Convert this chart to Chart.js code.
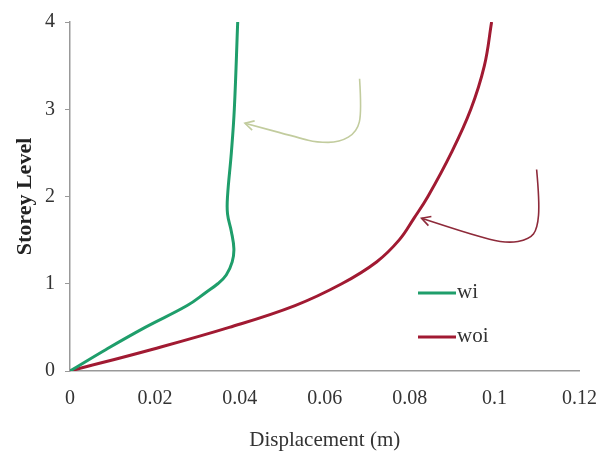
<!DOCTYPE html>
<html lang="en">
<head>
    <meta charset="UTF-8">
    <title>Storey Displacement</title>
    <style>
        body { margin: 0; padding: 0; background: white; }
        #wrap { width: 613px; height: 458px; }
    </style>
</head>
<body>
    <div id="wrap"><canvas id="storeyChart" width="613" height="458"></canvas></div>

    <script src="https://cdn.jsdelivr.net/npm/chart.js"></script>
    <script>
        // storey levels, with displacement (m) for each curve
        const wiLevels = [0, 0.25, 0.5, 0.75, 0.9, 1.0, 1.1, 1.25, 1.4, 1.6, 1.8, 2.0, 2.5, 3.0, 4.0];
        const wiDisp   = [0, 0.0086, 0.0177, 0.0276, 0.032, 0.0348, 0.0368, 0.0382, 0.0386, 0.038, 0.0371, 0.0371, 0.038, 0.0387, 0.0395];

        const woiLevels = [0, 0.25, 0.5, 0.75, 1.0, 1.25, 1.5, 1.75, 2.0, 2.5, 3.0, 3.5, 4.0];
        const woiDisp   = [0, 0.0195, 0.0375, 0.053, 0.064, 0.0722, 0.0775, 0.081, 0.0843, 0.0898, 0.0944, 0.0976, 0.0993];

        const xTicks = [0, 0.02, 0.04, 0.06, 0.08, 0.1, 0.12];
        const yTicks = [0, 1, 2, 3, 4];

        // hand-drawn arrows (data coords), last point is the arrow tip
        const wiArrowX = [0.0682, 0.0687, 0.0676, 0.0635, 0.0581, 0.0541, 0.0412];
        const wiArrowY = [3.35, 2.97, 2.74, 2.62, 2.62, 2.67, 2.84];
        const woiArrowX = [0.1099, 0.1106, 0.1101, 0.1082, 0.1028, 0.0948, 0.0828];
        const woiArrowY = [2.31, 1.94, 1.63, 1.51, 1.46, 1.56, 1.75];

        const toPoints = (xs, ys) => xs.map((x, i) => ({ x: x, y: ys[i] }));

        // draws the curved arrows and the legend inside the plot
        const extras = {
            id: 'extras',
            afterDatasetsDraw(chart) {
                const ctx = chart.ctx;
                const xs = chart.scales.x, ys = chart.scales.y;

                function arrow(ax, ay, color) {
                    const pts = ax.map((x, i) => [xs.getPixelForValue(x), ys.getPixelForValue(ay[i])]);
                    ctx.save();
                    ctx.strokeStyle = color;
                    ctx.lineWidth = 1.6;
                    ctx.beginPath();
                    ctx.moveTo(pts[0][0], pts[0][1]);
                    for (let i = 1; i < pts.length - 1; i++) {
                        const mx = (pts[i][0] + pts[i + 1][0]) / 2;
                        const my = (pts[i][1] + pts[i + 1][1]) / 2;
                        ctx.quadraticCurveTo(pts[i][0], pts[i][1], mx, my);
                    }
                    const tip = pts[pts.length - 1];
                    ctx.lineTo(tip[0], tip[1]);
                    ctx.stroke();
                    // arrow head
                    const prev = pts[pts.length - 2];
                    const ang = Math.atan2(tip[1] - prev[1], tip[0] - prev[0]);
                    ctx.beginPath();
                    ctx.moveTo(tip[0] - 10 * Math.cos(ang - 0.5), tip[1] - 10 * Math.sin(ang - 0.5));
                    ctx.lineTo(tip[0], tip[1]);
                    ctx.lineTo(tip[0] - 10 * Math.cos(ang + 0.5), tip[1] - 10 * Math.sin(ang + 0.5));
                    ctx.stroke();
                    ctx.restore();
                }
                arrow(wiArrowX, wiArrowY, '#c2cc9e');
                arrow(woiArrowX, woiArrowY, '#8e2a3a');

                // legend
                const area = chart.chartArea;
                const lx = area.left + 348, ly = area.top + 271;
                ctx.save();
                ctx.font = '21px "Liberation Serif"';
                ctx.textBaseline = 'middle';
                chart.data.datasets.forEach((ds, i) => {
                    const y = ly + i * 44;
                    ctx.strokeStyle = ds.borderColor;
                    ctx.lineWidth = 3;
                    ctx.beginPath();
                    ctx.moveTo(lx, y);
                    ctx.lineTo(lx + 38, y);
                    ctx.stroke();
                    ctx.fillStyle = '#333';
                    ctx.fillText(ds.label, lx + 39, y - 1);
                });
                ctx.restore();
            }
        };

        const ctx = document.getElementById('storeyChart').getContext('2d');
        new Chart(ctx, {
            type: 'line',
            data: {
                datasets: [
                    {
                        label: 'wi',
                        data: toPoints(wiDisp, wiLevels),
                        borderColor: '#1f9e6b',
                        borderWidth: 3,
                        pointRadius: 0,
                        tension: 0.4,
                        fill: false
                    },
                    {
                        label: 'woi',
                        data: toPoints(woiDisp, woiLevels),
                        borderColor: '#a11a32',
                        borderWidth: 3,
                        pointRadius: 0,
                        tension: 0.4,
                        fill: false
                    }
                ]
            },
            options: {
                responsive: false,
                animation: false,
                layout: { padding: { top: 6, right: 33, left: 0, bottom: 1 } },
                plugins: {
                    legend: { display: false },
                    tooltip: { enabled: false }
                },
                scales: {
                    x: {
                        type: 'linear',
                        min: 0,
                        max: 0.12,
                        afterBuildTicks: (axis) => { axis.ticks = xTicks.map(v => ({ value: v })); },
                        grid: { display: false, drawTicks: false },
                        border: { color: '#999', width: 1.5 },
                        ticks: {
                            color: '#333',
                            padding: 16,
                            font: { family: '"Liberation Serif"', size: 20 },
                            callback: (v) => String(v)
                        },
                        title: {
                            display: true,
                            text: 'Displacement (m)',
                            color: '#333',
                            padding: { top: 16 },
                            font: { family: '"Liberation Serif"', size: 21 }
                        },
                        afterFit: (axis) => { axis.height = 86; }
                    },
                    y: {
                        type: 'linear',
                        min: 0,
                        max: 4,
                        afterBuildTicks: (axis) => { axis.ticks = yTicks.map(v => ({ value: v })); },
                        grid: { drawOnChartArea: false, drawTicks: true, tickLength: 5, color: '#999' },
                        border: { color: '#999', width: 1.5 },
                        ticks: {
                            color: '#333',
                            padding: 10,
                            font: { family: '"Liberation Serif"', size: 20 }
                        },
                        title: {
                            display: true,
                            text: 'Storey Level',
                            color: '#222',
                            padding: { top: 12, bottom: 0 },
                            font: { family: '"Liberation Serif"', size: 22, weight: 'bold' }
                        },
                        afterFit: (axis) => { axis.width = 70; }
                    }
                }
            },
            plugins: [extras]
        });
    </script>
</body>
</html>
